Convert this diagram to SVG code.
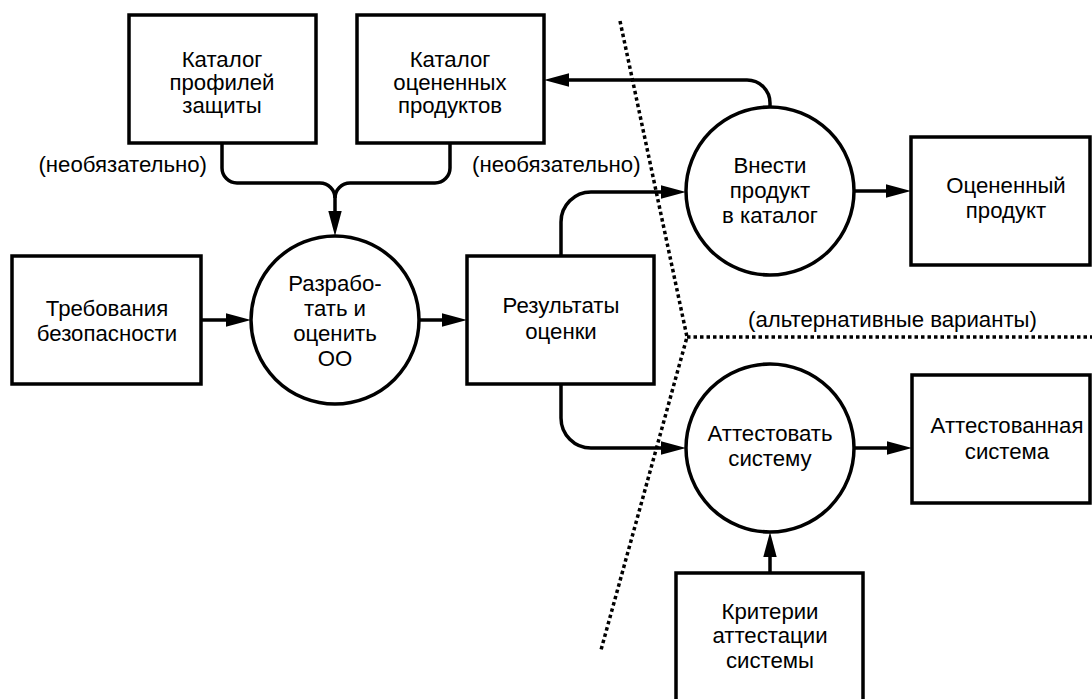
<svg xmlns="http://www.w3.org/2000/svg" width="1092" height="699" viewBox="0 0 1092 699">
<style>
.box{fill:#fff;stroke:#000;stroke-width:3.5}
.proc{fill:#fff;stroke:#000;stroke-width:3.5}
.con{fill:none;stroke:#000;stroke-width:3.5}
.dot{fill:none;stroke:#000;stroke-width:3.5;stroke-dasharray:3.5 3}
text{font-family:"Liberation Sans",Arial,sans-serif;font-size:22.2px;fill:#000}
.c{text-anchor:middle}
</style>
<defs>
<marker id="arr" markerUnits="userSpaceOnUse" viewBox="0 0 25 14" refX="15" refY="7" markerWidth="25" markerHeight="14" orient="auto">
<path d="M0,0.3 L25,7 L0,13.7 z" fill="#000"/>
</marker>
</defs>
<rect width="1092" height="699" fill="#fff"/>
<g id="boundaries">
<path class="dot" d="M620,21 L687,337 L601,650"/>
<path class="dot" d="M687,337 H1092"/>
</g>
<g id="connectors">
<path class="con" d="M222,143 V168 A15,15 0 0 0 237,183 H320 A15,15 0 0 1 335,198 V226" marker-end="url(#arr)"/>
<path class="con" d="M450,143 V168 A15,15 0 0 1 435,183 H350 A15,15 0 0 0 335,198"/>
<path class="con" d="M201,320 H241" marker-end="url(#arr)"/>
<path class="con" d="M419,320 H457" marker-end="url(#arr)"/>
<path class="con" d="M561,256 V222 A30,30 0 0 1 591,192 H676" marker-end="url(#arr)"/>
<path class="con" d="M561,384 V418 A30,30 0 0 0 591,448 H676" marker-end="url(#arr)"/>
<path class="con" d="M854,191 H901" marker-end="url(#arr)"/>
<path class="con" d="M854,448 H902" marker-end="url(#arr)"/>
<path class="con" d="M770,573 V542" marker-end="url(#arr)"/>
<path class="con" d="M770,107 V103 A23,23 0 0 0 747,80 H554" marker-end="url(#arr)"/>
</g>
<g id="n-pp-catalog">
<rect class="box" x="129" y="15" width="187" height="128"/>
<text class="c" x="222" y="67">Каталог</text>
<text class="c" x="222" y="90">профилей</text>
<text class="c" x="222" y="113">защиты</text>
</g>
<g id="n-eval-catalog">
<rect class="box" x="357" y="15" width="187" height="128"/>
<text class="c" x="450" y="67">Каталог</text>
<text class="c" x="450" y="90">оцененных</text>
<text class="c" x="450" y="113">продуктов</text>
</g>
<g id="n-requirements">
<rect class="box" x="12" y="256" width="189" height="128"/>
<text class="c" x="107" y="316">Требования</text>
<text class="c" x="107" y="341">безопасности</text>
</g>
<g id="n-develop">
<circle class="proc" cx="335" cy="320" r="84"/>
<text class="c" x="335" y="291">Разрабо-</text>
<text class="c" x="335" y="316">тать и</text>
<text class="c" x="335" y="341">оценить</text>
<text class="c" x="335" y="366">ОО</text>
</g>
<g id="n-results">
<rect class="box" x="467" y="256" width="187" height="128"/>
<text class="c" x="561" y="313">Результаты</text>
<text class="c" x="561" y="339">оценки</text>
</g>
<g id="n-enter">
<circle class="proc" cx="770" cy="191" r="84"/>
<text class="c" x="770" y="173">Внести</text>
<text class="c" x="770" y="198">продукт</text>
<text class="c" x="770" y="223">в каталог</text>
</g>
<g id="n-evaluated">
<rect class="box" x="911" y="137" width="179" height="128"/>
<text class="c" x="1006" y="193">Оцененный</text>
<text class="c" x="1006" y="218">продукт</text>
</g>
<g id="n-accredit">
<circle class="proc" cx="770" cy="448" r="84"/>
<text class="c" x="770" y="441">Аттестовать</text>
<text class="c" x="770" y="466">систему</text>
</g>
<g id="n-accredited">
<rect class="box" x="912" y="375" width="178" height="128"/>
<text class="c" x="1007" y="433">Аттестованная</text>
<text class="c" x="1007" y="459">система</text>
</g>
<g id="n-criteria">
<rect class="box" x="676" y="573" width="187" height="128"/>
<text class="c" x="770" y="619">Критерии</text>
<text class="c" x="770" y="643">аттестации</text>
<text class="c" x="770" y="668">системы</text>
</g>
<g id="labels">
<text x="207" y="172" text-anchor="end">(необязательно)</text>
<text x="472" y="172">(необязательно)</text>
<text x="748" y="327">(альтернативные варианты)</text>
</g>
</svg>
